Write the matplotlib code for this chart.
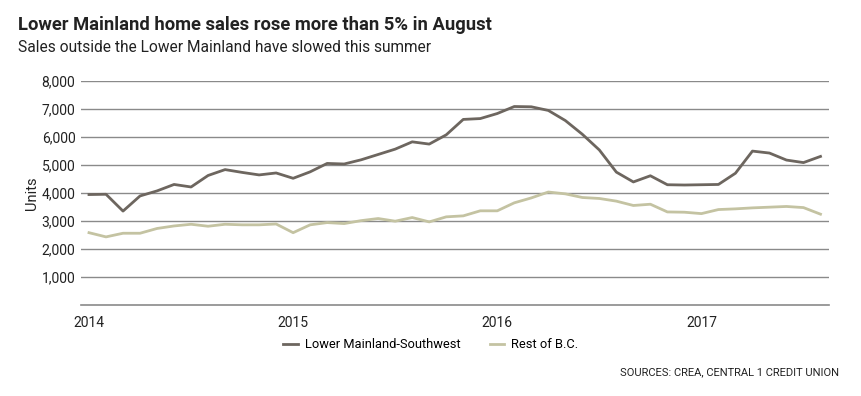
import matplotlib
matplotlib.use("Agg")
import matplotlib.pyplot as plt
import numpy as np

# monthly home sales, Jan 2014 - Aug 2017
months = np.arange(44)
lower_mainland = [3950, 3960, 3360, 3900, 4080, 4310, 4220, 4630, 4840, 4740, 4650, 4720,
                  4530, 4760, 5060, 5040, 5190, 5380, 5570, 5830, 5750, 6080, 6630, 6660,
                  6840, 7090, 7080, 6950, 6590, 6100, 5540, 4750, 4400, 4620, 4300, 4290,
                  4300, 4310, 4710, 5500, 5430, 5180, 5090, 5310]
rest_of_bc = [2590, 2440, 2570, 2570, 2740, 2830, 2890, 2820, 2890, 2870, 2870, 2900,
              2590, 2870, 2950, 2915, 3020, 3095, 3000, 3130, 2975, 3155, 3190, 3370,
              3370, 3655, 3830, 4040, 3975, 3845, 3810, 3715, 3560, 3605, 3330, 3320,
              3270, 3415, 3440, 3475, 3500, 3525, 3485, 3250]
year_ticks = [0, 12, 24, 36]
year_labels = ["2014", "2015", "2016", "2017"]
y_ticks = [1000, 2000, 3000, 4000, 5000, 6000, 7000, 8000]

dark = "#6d665f"
light = "#c4c3a2"

plt.rcParams['font.family'] = ['Roboto', 'DejaVu Sans']

fig = plt.figure(figsize=(8.62, 3.96), dpi=100)
ax = fig.add_axes([81/862, 1 - 305.3/396, (829-81)/862, (305.3-81)/396])

ax.plot(months, lower_mainland, color=dark, lw=2, label="Lower Mainland-Southwest")
ax.plot(months, rest_of_bc, color=light, lw=2, label="Rest of B.C.")

ax.set_xlim(-0.47, 43.5)
ax.set_ylim(0, 8000)
ax.set_yticks(y_ticks)
ax.set_yticklabels([f"{v:,}" for v in y_ticks], fontsize=10, color="#222222")
ax.set_xticks(year_ticks)
ax.set_xticklabels(year_labels, fontsize=10, color="#222222")
ax.tick_params(axis='both', length=0, pad=4)
ax.tick_params(axis='x', pad=8)

ax.grid(axis='y', color="#8a8a8a", lw=1)
ax.set_axisbelow(True)
for s in ax.spines.values():
    s.set_visible(False)
ax.axhline(0, color="#8a8a8a", lw=1.2, clip_on=False)
ax.set_ylabel("Units", fontsize=10.5, color="#222222", labelpad=2)

fig.text(18/862, 1 - 25/396, "Lower Mainland home sales rose more than 5% in August",
         fontsize=13.2, fontweight='bold', va='center', color="#222222")
fig.text(18/862, 1 - 47/396, "Sales outside the Lower Mainland have slowed this summer",
         fontsize=11.2, va='center', color="#222222")

leg = fig.legend(loc='center', bbox_to_anchor=(431/862, 1 - 345/396), ncol=2, frameon=False,
                 fontsize=9.3, handlelength=1.1, columnspacing=2.3, handletextpad=0.55)
for h in leg.get_lines():
    h.set_linewidth(2)

fig.text(839/862, 1 - 372/396, "SOURCES: CREA, CENTRAL 1 CREDIT UNION", fontsize=8.0,
         ha='right', va='center', color="#222222")

fig.savefig("out.png", dpi=100)
